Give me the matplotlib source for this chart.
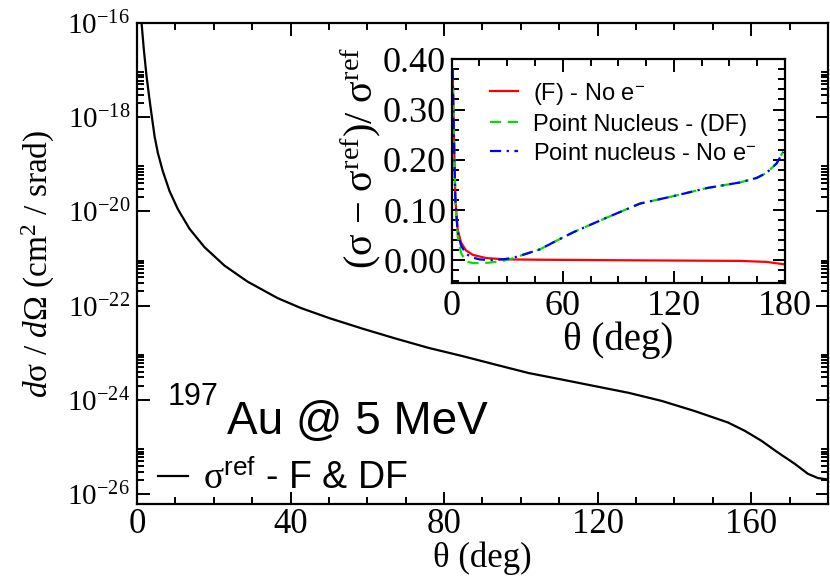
import numpy as np
import matplotlib
matplotlib.use("Agg")
import matplotlib.pyplot as plt
import matplotlib.ticker as mticker

plt.rcParams["font.family"] = ["Liberation Serif", "DejaVu Serif"]
plt.rcParams["mathtext.fontset"] = "custom"
plt.rcParams["mathtext.rm"] = "Liberation Serif"
plt.rcParams["mathtext.it"] = "Liberation Serif:italic"
plt.rcParams["mathtext.bf"] = "Liberation Serif:bold"
plt.rcParams["mathtext.sf"] = "Liberation Sans"
plt.rcParams["axes.unicode_minus"] = True

# ---------------- main panel: reference cross section ----------------
THETA_MAIN = [1.2, 1.8, 2.5, 3.3, 3.9, 4.6, 5.45, 6.75, 8.5, 10.65, 13.7, 17.6,
              22.8, 28.8, 36.6, 42.7, 50.3, 58.8, 67.4, 76.1, 84.8, 93.4, 102.1,
              110.7, 119.4, 128.1, 136.7, 145.4, 154.0, 158.4, 162.7, 167.0,
              171.4, 174.8, 177.4, 180.0]
XS_REF = [1.0e-16, 2.69e-17, 7.41e-18, 2.29e-18, 1.0e-18, 3.89e-19, 1.74e-19,
          7.08e-20, 2.69e-20, 1.12e-20, 4.27e-21, 1.74e-21, 7.08e-22, 3.24e-22,
          1.45e-22, 8.9e-23, 5.37e-23, 3.24e-23, 2.0e-23, 1.26e-23, 8.5e-24,
          5.6e-24, 3.7e-24, 2.7e-24, 1.95e-24, 1.41e-24, 9.5e-25, 5.75e-25,
          3.3e-25, 2.19e-25, 1.35e-25, 7.6e-26, 4.37e-26, 2.69e-26, 2.19e-26,
          2.04e-26]

# ---------------- inset: relative differences ----------------
THETA_F = [0.5, 1.4, 2.0, 3.2, 5.0, 7.7, 11.4, 18.6, 29.4, 47.7, 90.0, 130.0,
           155.7, 170.0, 180.0]
REL_F = [0.377, 0.219, 0.121, 0.062, 0.036, 0.020, 0.011, 0.0046, 0.002, 0.0013,
         0.0003, -0.0005, -0.001, -0.003, -0.008]

THETA_PN = [0.5, 1.4, 2.0, 3.2, 5.0, 7.7, 11.0, 15.0, 20.4, 27.6, 33.0, 38.4,
            47.7, 56.0, 65.7, 83.7, 101.7, 120.0, 138.0, 155.7, 164.7, 170.0,
            175.5, 179.0]
REL_PN_DF = [0.38, 0.21, 0.115, 0.05, 0.015, -0.002, -0.005, -0.0055, -0.0045,
             -0.001, 0.004, 0.011, 0.022, 0.038, 0.056, 0.085, 0.113, 0.128,
             0.144, 0.155, 0.164, 0.174, 0.193, 0.216]
REL_PN_NOE = [0.38, 0.21, 0.118, 0.058, 0.03, 0.013, 0.006, 0.002, 0.0005,
              0.002, 0.005, 0.011, 0.022, 0.038, 0.056, 0.085, 0.113, 0.128,
              0.144, 0.155, 0.164, 0.174, 0.193, 0.216]

SANS = "Liberation Sans"

fig = plt.figure(figsize=(8.3, 5.85), dpi=100)

# main axes
ax = fig.add_axes([0.165, 0.1385, 0.8325, 0.8222])
line_ref, = ax.plot(THETA_MAIN, XS_REF, color="black", lw=1.6)
ax.set_yscale("log")
ax.set_xlim(0, 180)
ax.set_ylim(10 ** -26.21, 1e-16)

ax.xaxis.set_major_locator(mticker.MultipleLocator(40))
ax.xaxis.set_minor_locator(mticker.MultipleLocator(10))
majors = [10.0 ** e for e in range(-26, -15, 2)]
minors = [k * 10.0 ** e for e in range(-28, -15, 2) for k in range(2, 10)]
ax.yaxis.set_major_locator(mticker.FixedLocator(majors))
ax.yaxis.set_minor_locator(mticker.FixedLocator(minors))
ax.yaxis.set_major_formatter(mticker.FuncFormatter(
    lambda v, p: r"$\mathregular{10^{%d}}$" % round(np.log10(v))))
ax.yaxis.set_minor_formatter(mticker.NullFormatter())

for s in ax.spines.values():
    s.set_linewidth(1.6)
ax.tick_params(which="both", direction="in", top=True, right=True, width=1.4)
ax.tick_params(which="major", length=9)
ax.tick_params(which="minor", length=5)
ax.tick_params(axis="y", which="major", labelsize=21, pad=5)
ax.tick_params(axis="x", which="major", labelsize=25, pad=3)

ax.set_xlabel("θ (deg)", fontsize=25, labelpad=0)
ax.set_ylabel("$d$σ / $d$Ω (cm$^2$ / srad)", fontsize=24, labelpad=7)

ax.text(0.0449, 0.2066, "197", transform=ax.transAxes, fontsize=22,
        family=SANS, va="baseline")
ax.text(0.1298, 0.1446, "Au @ 5 MeV", transform=ax.transAxes, fontsize=33,
        family=SANS, va="baseline")
ax.legend([line_ref], [r"$\mathrm{\sigma}^{\mathsf{ref}}$ - F & DF"],
          loc="lower left", bbox_to_anchor=(0.0304, 0.015), frameon=False,
          handlelength=0.8, handletextpad=0.4, borderpad=0, borderaxespad=0,
          prop={"family": SANS, "size": 27})

# inset axes
ins = fig.add_axes([0.5442, 0.5162, 0.4016, 0.3825])
l1, = ins.plot(THETA_F, REL_F, color="#ff0000", lw=1.6)
l2, = ins.plot(THETA_PN, REL_PN_DF, color="#00e000", lw=1.6, dashes=(5, 3))
l3, = ins.plot(THETA_PN, REL_PN_NOE, color="#0000ff", lw=1.6,
               dashes=(5, 2.5, 1, 2.5))
ins.set_xlim(0, 180)
ins.set_ylim(-0.045, 0.40)
ins.xaxis.set_major_locator(mticker.MultipleLocator(60))
ins.xaxis.set_minor_locator(mticker.MultipleLocator(15))
ins.yaxis.set_major_locator(mticker.MultipleLocator(0.1))
ins.yaxis.set_minor_locator(mticker.MultipleLocator(0.02))
ins.yaxis.set_major_formatter(mticker.FormatStrFormatter("%.2f"))
for s in ins.spines.values():
    s.set_linewidth(1.6)
ins.tick_params(which="both", direction="in", top=True, right=True, width=1.4)
ins.tick_params(which="major", length=9, labelsize=26, pad=4)
ins.tick_params(which="minor", length=5)
ins.tick_params(axis="x", which="major", pad=5)
ins.set_xlabel("θ (deg)", fontsize=28, labelpad=-1)
ins.set_ylabel(r"(σ − σ$^{\mathrm{ref}}$)/ σ$^{\mathrm{ref}}$", fontsize=29)
ins.yaxis.set_label_coords(-0.205, 0.56)
ins.legend([l1, l2, l3],
           [r"(F) - No e$^{\mathsf{-}}$", "Point Nucleus - (DF)",
            r"Point nucleus - No e$^{\mathsf{-}}$"],
           loc="upper left", bbox_to_anchor=(0.05, 1.0), frameon=False,
           handlelength=1.2, handletextpad=0.65, labelspacing=0.3,
           prop={"family": SANS, "size": 17})

fig.savefig("out.png", dpi=100)
